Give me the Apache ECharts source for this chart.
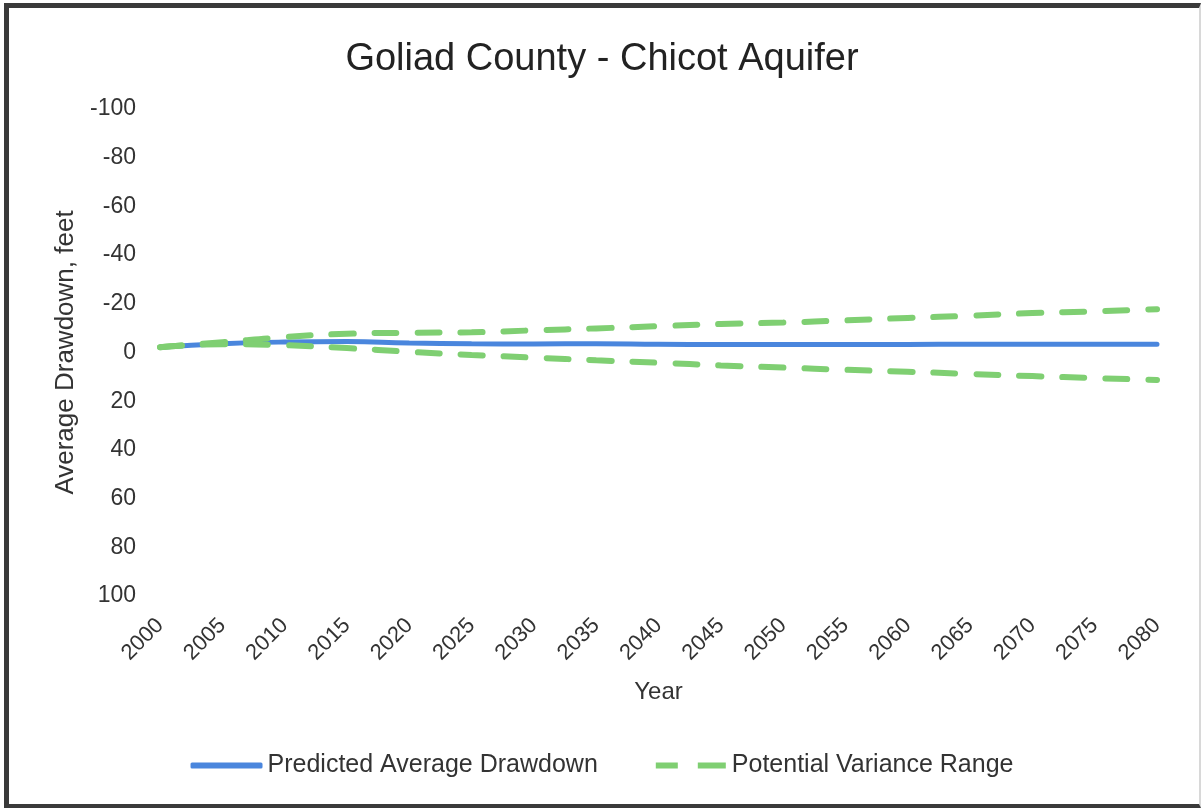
<!DOCTYPE html>
<html>
<head>
<meta charset="utf-8">
<title>Goliad County - Chicot Aquifer</title>
<script src="https://cdn.jsdelivr.net/npm/echarts@6/dist/echarts.min.js"></script>
<style>
    html, body { margin: 0; padding: 0; background: #fff; }
    #frame {
        position: absolute; left: 4px; top: 3px; width: 1190px; height: 796px;
        border-top: 5px solid #3a3a3a; border-left: 5px solid #3a3a3a;
        border-bottom: 4px solid #3a3a3a; border-right: 2px solid #d8d8d8;
    }
    #chart { position: absolute; left: 0; top: 0; width: 1204px; height: 808px; }
</style>
</head>
<body>
<div id="frame"></div>
<div id="chart"></div>
<script>
    /* ------ data ------ */
    var years = [2000, 2005, 2010, 2015, 2020, 2025, 2030, 2035, 2040, 2045, 2050, 2055, 2060, 2065, 2070, 2075, 2080];
    var predicted = [-2.2, -3.6, -4.3, -4.5, -3.9, -3.6, -3.5, -3.6, -3.4, -3.3, -3.3, -3.3, -3.3, -3.4, -3.4, -3.4, -3.4];
    var upperRange = [-2.2, -4.2, -6.3, -7.7, -8.1, -8.3, -9.1, -9.9, -10.8, -11.7, -12.3, -13.2, -14.2, -15.1, -16.2, -16.9, -17.8];
    var lowerRange = [-2.2, -3.4, -3.0, -1.8, -0.3, 1.0, 2.1, 3.2, 4.2, 5.3, 6.2, 7.1, 7.9, 8.8, 9.7, 10.5, 11.3];

    function pairs(vals) {
        var out = [];
        for (var i = 0; i < years.length; i++) out.push([years[i], vals[i]]);
        return out;
    }

    var font = '"Liberation Sans", Arial, sans-serif';
    var blue = '#4a86dd';
    var green = '#7fcf72';

    var chart = echarts.init(document.getElementById('chart'));

    var option = {
        animation: false,
        backgroundColor: 'transparent',
        title: {
            text: 'Goliad County - Chicot Aquifer',
            left: 'center',
            top: 36,
            textStyle: { fontFamily: font, fontSize: 38, fontWeight: 'normal', color: '#222' }
        },
        grid: { left: 160, right: 47, top: 109, bottom: 212 },
        legend: {
            bottom: 25,
            left: 'center',
            itemWidth: 72,
            itemHeight: 6,
            itemGap: 58,
            textStyle: { fontFamily: font, fontSize: 25, color: '#333' },
            data: [
                { name: 'Predicted Average Drawdown', icon: 'roundRect', itemStyle: { color: blue } },
                { name: 'Potential Variance Range', icon: 'path://M0,0H22V6H0ZM42,0H70V6H42Z', itemStyle: { color: green } }
            ]
        },
        xAxis: {
            type: 'value',
            min: 2000,
            max: 2080,
            interval: 5,
            name: 'Year',
            nameLocation: 'middle',
            nameGap: 84,
            nameTextStyle: { fontFamily: font, fontSize: 24, color: '#333' },
            axisLine: { show: false },
            axisTick: { show: false },
            splitLine: { show: false },
            axisLabel: {
                rotate: 45,
                margin: 26,
                fontFamily: font,
                fontSize: 22,
                color: '#333',
                formatter: function (v) { return String(v); }
            }
        },
        yAxis: {
            type: 'value',
            inverse: true,
            min: -100,
            max: 100,
            interval: 20,
            name: 'Average Drawdown, feet',
            nameLocation: 'middle',
            nameGap: 77,
            nameTextStyle: { fontFamily: font, fontSize: 26, color: '#333' },
            axisLine: { show: false },
            axisTick: { show: false },
            splitLine: { show: false },
            axisLabel: { fontFamily: font, fontSize: 23, color: '#333', margin: 24 }
        },
        series: [
            {
                name: 'Potential Variance Range',
                type: 'line',
                smooth: true,
                symbol: 'none',
                data: pairs(upperRange),
                lineStyle: { color: green, width: 6, type: [22, 21], cap: 'round' },
                itemStyle: { color: green }
            },
            {
                name: 'Potential Variance Range',
                type: 'line',
                smooth: true,
                symbol: 'none',
                data: pairs(lowerRange),
                lineStyle: { color: green, width: 6, type: [22, 21], cap: 'round' },
                itemStyle: { color: green }
            },
            {
                name: 'Predicted Average Drawdown',
                type: 'line',
                smooth: true,
                symbol: 'none',
                z: 1,
                data: pairs(predicted),
                lineStyle: { color: blue, width: 5, cap: 'round' },
                itemStyle: { color: blue }
            }
        ]
    };
    chart.setOption(option);
</script>
</body>
</html>
